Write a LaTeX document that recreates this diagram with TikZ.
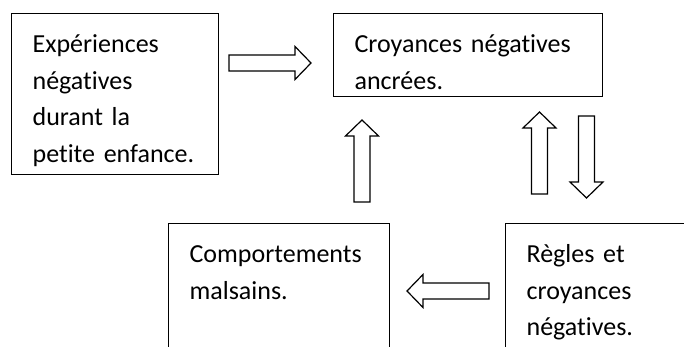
\documentclass[tikz,border=0pt]{standalone}
\usepackage{fontspec}
\setmainfont{Carlito}[Ligatures=NoCommon]
\usetikzlibrary{calc, positioning}
\tikzset{
  boite/.style={
    rectangle,
    draw=black,
    line width=1.2pt,
    anchor=north west,
    align=left,
    inner xsep=21pt,
    inner ysep=4pt,
    text height=35pt,
    font=\fontsize{26}{36.5}\selectfont},
  fleche/.pic={
    \draw[line width=1.2pt, line join=miter]
      (0,8) -- (66,8) -- (66,16.5) -- (82,0) -- (66,-16.5) -- (66,-8) -- (0,-8) -- cycle;
  },
}
\begin{document}
\begin{tikzpicture}[x=1pt, y=1pt]
	\useasboundingbox (0,0) rectangle (684,347);
	\clip (0,0) rectangle (684,347);
	\node [boite, text width=165pt, text depth=118pt] (exp)  at (11,334)  {Expériences\\négatives\\durant la\\petite enfance.};
	\node [boite, text width=227pt, text depth=40pt]  (croy) at (333,334) {Croyances négatives\\ancrées.};
	\node [boite, text width=179pt, text depth=150pt] (comp) at (168,124) {Comportements\\malsains.};
	\node [boite, text width=188pt, text depth=150pt] (regl) at (505,124) {Règles et\\croyances\\négatives.};

	% fleches
	\pic              (r1) at (229,284)   {fleche};
	\pic [rotate=90]  (u1) at (362,145)   {fleche};
	\pic [rotate=90]  (u2) at (539.5,153) {fleche};
	\pic [rotate=-90] (d1) at (586.5,231) {fleche};
	\pic [rotate=180] (l1) at (489,56)    {fleche};
\end{tikzpicture}
\end{document}
